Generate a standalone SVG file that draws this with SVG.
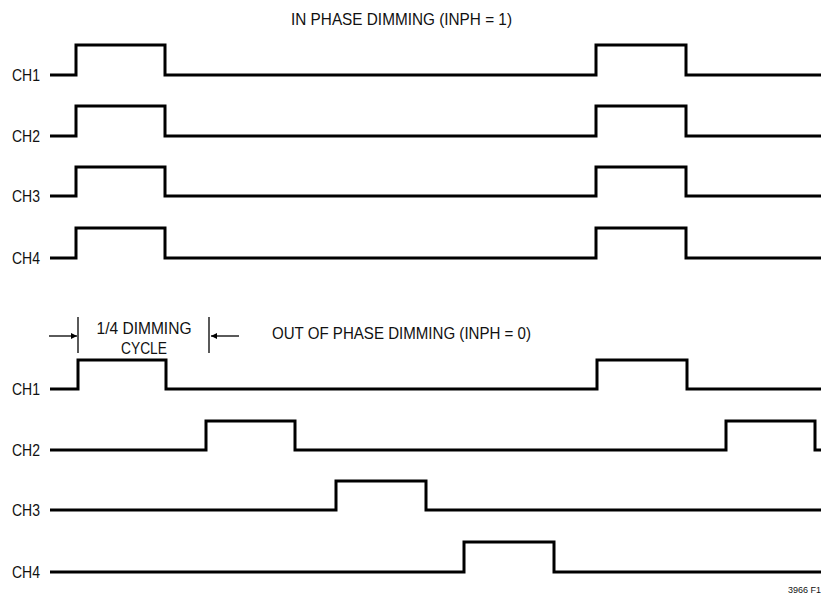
<svg xmlns="http://www.w3.org/2000/svg" width="821" height="594" viewBox="0 0 821 594">
<defs>
<style>
.sig{fill:none;stroke:#000;stroke-width:3;stroke-linejoin:miter}
.thin{fill:none;stroke:#000;stroke-width:1.3}
.lbl{font-family:"Liberation Sans Narrow","Liberation Sans",Arial,sans-serif;font-size:16.5px;fill:#111}
.ttl{font-family:"Liberation Sans Narrow","Liberation Sans",Arial,sans-serif;font-size:17px;fill:#111}
.note{font-family:"Liberation Sans Narrow","Liberation Sans",Arial,sans-serif;font-size:9px;fill:#111}
</style>
<marker id="ah" viewBox="0 0 10 10" refX="10" refY="5" markerWidth="9" markerHeight="6" markerUnits="userSpaceOnUse" orient="auto">
<path d="M0,0 L10,5 L0,10 Z" fill="#000"/>
</marker>
</defs>
<rect width="821" height="594" fill="#fff"/>

<text class="ttl" x="291" y="25" textLength="221" lengthAdjust="spacingAndGlyphs">IN PHASE DIMMING (INPH = 1)</text>

<g id="in-ch1"><text class="lbl" x="12" y="81" textLength="28" lengthAdjust="spacingAndGlyphs">CH1</text>
<path class="sig" d="M50,75 H76 V45 H165 V75 H596 V45 H686 V75 H821"/></g>
<g id="in-ch2"><text class="lbl" x="12" y="142" textLength="28" lengthAdjust="spacingAndGlyphs">CH2</text>
<path class="sig" d="M50,136 H76 V106 H165 V136 H596 V106 H686 V136 H821"/></g>
<g id="in-ch3"><text class="lbl" x="12" y="202" textLength="28" lengthAdjust="spacingAndGlyphs">CH3</text>
<path class="sig" d="M50,196 H76 V167 H165 V196 H596 V167 H686 V196 H821"/></g>
<g id="in-ch4"><text class="lbl" x="12" y="264" textLength="28" lengthAdjust="spacingAndGlyphs">CH4</text>
<path class="sig" d="M50,258 H76 V228 H165 V258 H596 V228 H686 V258 H821"/></g>

<g id="cycle-marker">
<line class="thin" x1="78" y1="317" x2="78" y2="353"/>
<line class="thin" x1="209" y1="317" x2="209" y2="353"/>
<g id="connectors">
<line class="thin" x1="49" y1="336" x2="77" y2="336" marker-end="url(#ah)"/>
<line class="thin" x1="239" y1="336" x2="211" y2="336" marker-end="url(#ah)"/>
</g>
<text class="lbl" x="144" y="334" text-anchor="middle" textLength="95" lengthAdjust="spacingAndGlyphs">1/4 DIMMING</text>
<text class="lbl" x="144" y="354" text-anchor="middle" textLength="46" lengthAdjust="spacingAndGlyphs">CYCLE</text>
</g>

<text class="ttl" x="272" y="339" textLength="259" lengthAdjust="spacingAndGlyphs">OUT OF PHASE DIMMING (INPH = 0)</text>

<g id="out-ch1"><text class="lbl" x="12" y="395" textLength="28" lengthAdjust="spacingAndGlyphs">CH1</text>
<path class="sig" d="M50,389 H78 V360 H166 V389 H597 V360 H687 V389 H821"/></g>
<g id="out-ch2"><text class="lbl" x="12" y="456" textLength="28" lengthAdjust="spacingAndGlyphs">CH2</text>
<path class="sig" d="M50,450 H206 V421 H295 V450 H726 V421 H815 V450 H821"/></g>
<g id="out-ch3"><text class="lbl" x="12" y="516" textLength="28" lengthAdjust="spacingAndGlyphs">CH3</text>
<path class="sig" d="M50,510 H336 V481 H426 V510 H821"/></g>
<g id="out-ch4"><text class="lbl" x="12" y="578" textLength="28" lengthAdjust="spacingAndGlyphs">CH4</text>
<path class="sig" d="M50,572 H464 V542 H554 V572 H821"/></g>

<text class="note" x="821" y="593" text-anchor="end">3966 F1</text>
</svg>
